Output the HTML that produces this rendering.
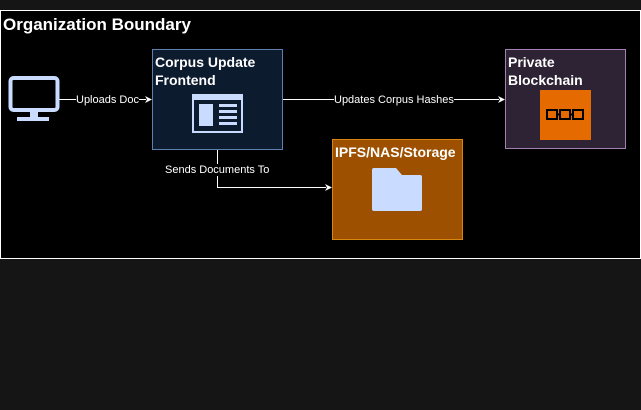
<!DOCTYPE html>
<html><head><style>
body{margin:0;width:641px;height:410px;background:#151515;position:relative;overflow:hidden;font-family:"Liberation Sans",sans-serif}
.a{position:absolute}
.t{color:#fff;font-weight:bold;font-size:14px;line-height:18px}
.l{color:#fff;font-size:11px;background:#000;line-height:12px}
</style></head><body>
<div class="a" style="left:0;top:10px;width:639px;height:247px;background:#000;border:1px solid #fff"></div>
<div class="a t" style="left:3px;top:15px;font-size:17px;line-height:20px">Organization Boundary</div>
<svg class="a" style="left:0;top:0" width="641" height="410">
 <g fill="none" stroke="#fff" stroke-width="1">
  <path d="M59 99.5H146"/><path d="M283 99.5H499"/><path d="M217.5 150V187.5H326"/>
 </g>
 <g fill="#fff"><path d="M152 99.5l-7-3.5 2 3.5-2 3.5z"/><path d="M505 99.5l-7-3.5 2 3.5-2 3.5z"/><path d="M332 187.5l-7-3.5 2 3.5-2 3.5z"/></g>
 <!-- monitor -->
 <rect x="10.5" y="78" width="47" height="32" rx="3" fill="#000" stroke="#c9dcff" stroke-width="4"/>
 <rect x="30" y="111" width="8" height="6" fill="#c9dcff"/><rect x="17" y="117" width="32" height="4" fill="#c9dcff"/>
 <!-- frontend -->
 <rect x="152.5" y="49.5" width="130" height="100" fill="#0d1b2f" stroke="#5f7fae"/>
 <rect x="192" y="94" width="51" height="39" fill="#c9dcff"/>
 <rect x="194" y="100" width="47" height="31" fill="#0d1b2f"/>
 <rect x="199" y="104" width="14" height="22" fill="#c9dcff"/>
 <g fill="#c9dcff"><rect x="219" y="104" width="18" height="3"/><rect x="219" y="110" width="18" height="3"/><rect x="219" y="116" width="18" height="3"/><rect x="219" y="122" width="18" height="3"/></g>
 <!-- blockchain -->
 <rect x="505.5" y="49.5" width="120" height="99" fill="#2e2235" stroke="#a57fb0"/>
 <rect x="540" y="90" width="51" height="50" fill="#e56a00"/>
 <g fill="none" stroke="#000" stroke-width="2"><rect x="547" y="110" width="10" height="9"/><rect x="560" y="110" width="10" height="9"/><rect x="573" y="110" width="10" height="9"/><path d="M557 114.5h3M570 114.5h3"/></g>
 <!-- storage -->
 <rect x="332.5" y="139.5" width="130" height="100" fill="#9c5000" stroke="#d9860f"/>
 <path d="M374 168h22l6 7h18a2 2 0 0 1 2 2v32a2 2 0 0 1-2 2h-46a2 2 0 0 1-2-2v-39a2 2 0 0 1 2-2z" fill="#c9dcff"/>
</svg>
<div class="a t" style="left:155px;top:53px">Corpus Update<br>Frontend</div>
<div class="a t" style="left:508px;top:53px">Private<br>Blockchain</div>
<div class="a t" style="left:335px;top:143px">IPFS/NAS/Storage</div>
<div class="a l" style="left:76px;top:94px">Uploads Doc</div>
<div class="a l" style="left:334px;top:94px">Updates Corpus Hashes</div>
<div class="a l" style="left:165px;top:164px">Sends Documents To</div>
</body></html>
